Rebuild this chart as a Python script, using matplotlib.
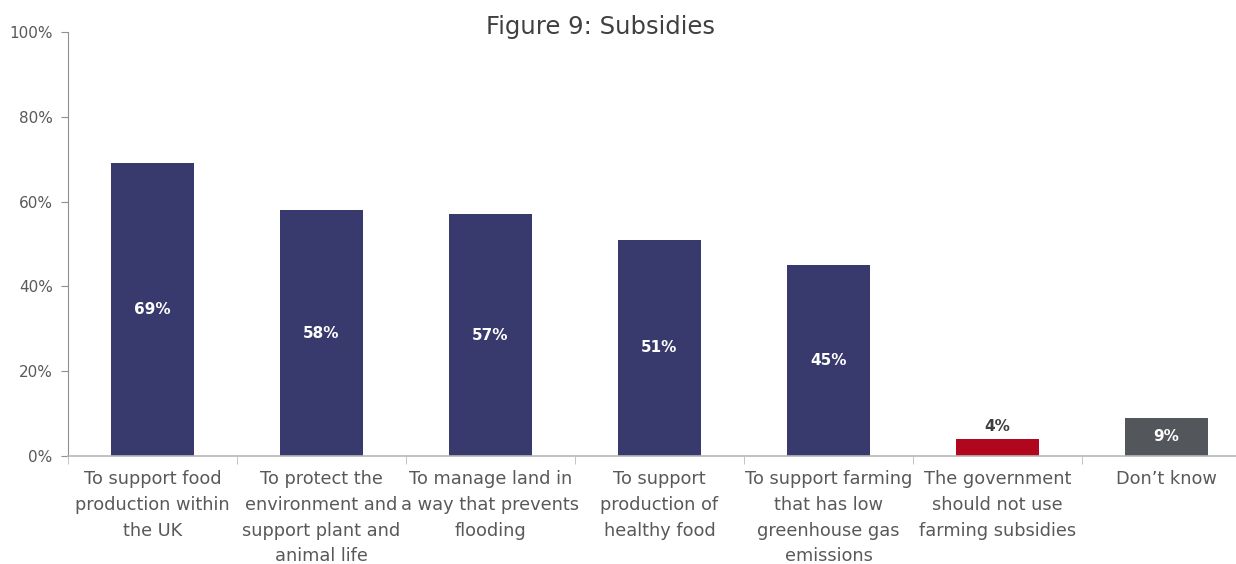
import matplotlib
matplotlib.use("Agg")
import matplotlib.pyplot as plt
import numpy as np

categories = [
    "To support food\nproduction within\nthe UK",
    "To protect the\nenvironment and\nsupport plant and\nanimal life",
    "To manage land in\na way that prevents\nflooding",
    "To support\nproduction of\nhealthy food",
    "To support farming\nthat has low\ngreenhouse gas\nemissions",
    "The government\nshould not use\nfarming subsidies",
    "Don\u2019t know",
]
values = [69, 58, 57, 51, 45, 4, 9]
colors = ["#383a6e"] * 5 + ["#b0061e", "#53565a"]
yticks = [0, 20, 40, 60, 80, 100]

fig = plt.figure(figsize=(12.36, 5.64), dpi=100)
ax = fig.add_axes([68/1236, 108/564, 1183/1236, 424/564])
x = np.arange(len(values))
ax.bar(x, values, width=0.49, color=colors, zorder=2)
ax.set_xlim(-0.5, len(values) - 0.5)
ax.set_ylim(0, 100)

txtc = "#595959"
for xi, v in zip(x, values):
    if v >= 9:
        ax.text(xi, v / 2, f"{v}%", ha="center", va="center",
                color="white", fontsize=11, fontweight="bold")
    else:
        ax.text(xi, v + 1.2, f"{v}%", ha="center", va="bottom",
                color="#404040", fontsize=11, fontweight="bold")

ax.set_yticks(yticks)
ax.set_yticklabels([f"{t}%" for t in yticks], color=txtc, fontsize=11)
ax.set_xticks(x)
ax.set_xticklabels(categories, color=txtc, fontsize=12.8, linespacing=1.56, va="top")
ax.tick_params(axis="x", length=0, pad=10)
ax.set_xticks(np.arange(len(values)) - 0.5, minor=True)
ax.tick_params(axis="x", which="minor", length=6, color="#b8b8b8")
ax.tick_params(axis="y", length=5, color="#909090", pad=6)

for s in ["top", "right"]:
    ax.spines[s].set_visible(False)
ax.spines["left"].set_color("#909090")
ax.spines["bottom"].set_color("#b8b8b8")
ax.spines["bottom"].set_linewidth(1.2)

fig.text(600/1236, 1 - 27/564, "Figure 9: Subsidies", ha="center", va="center",
         fontsize=17.5, color="#404040")

fig.savefig("out.png", dpi=100)
